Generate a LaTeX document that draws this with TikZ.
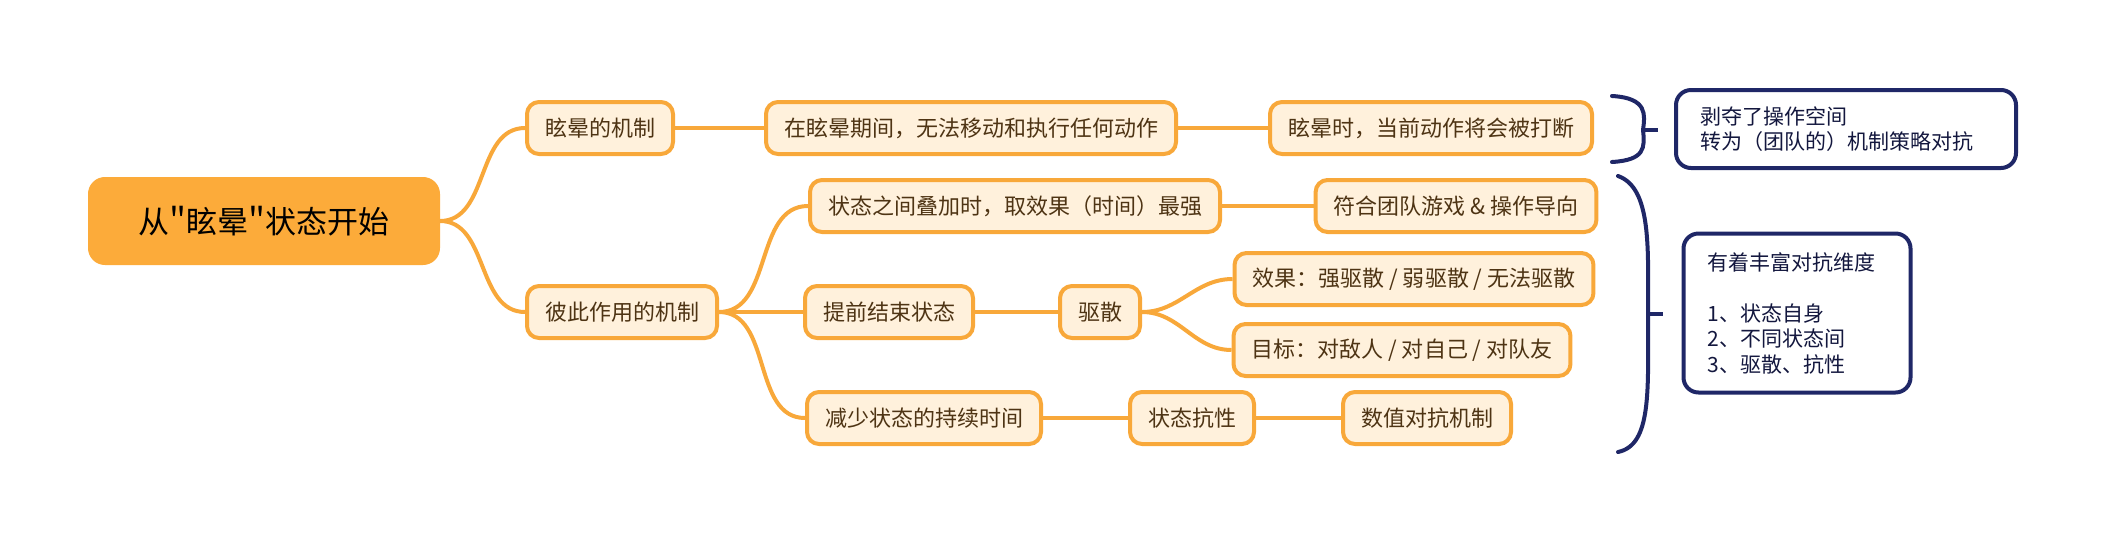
\documentclass[tikz,border=0pt]{standalone}
\usepackage{fontspec}
\setmainfont{Noto Sans CJK SC}
\usepackage{xcolor}
\usepackage{tikz}

\definecolor{orangeline}{HTML}{F8A83A}
\definecolor{rootfill}{HTML}{FCAB3A}
\definecolor{leaffill}{HTML}{FFF1DC}
\definecolor{leaftext}{HTML}{4E3414}
\definecolor{navy}{HTML}{1F2767}

\newcommand{\dquote}{\kern-7pt＂\kern-7pt}

\begin{document}
\begin{tikzpicture}[x=1pt,y=-1pt,line width=4pt,auto]

                \tikzset{topic/.style={draw=orangeline, fill=leaffill, text=leaftext, rounded corners=12pt, minimum height=52pt, inner xsep=18pt, font=\fontsize{22}{26}\selectfont}}
                \tikzset{root/.style={draw=rootfill, fill=rootfill, text=black, rounded corners=15pt, minimum height=84pt, minimum width=348pt, font=\fontsize{31}{36}\selectfont}}
                \tikzset{note/.style={draw=navy, fill=white, text=navy!60!black, rounded corners=15pt, align=left, inner xsep=24pt, font=\fontsize{21}{25.5}\selectfont}}
                \tikzset{link/.style={draw=orangeline, out=0, in=180}}

                \useasboundingbox (0,0) rectangle (2107,542);

                \node[root] (R) at (264,221) {从\dquote 眩晕\dquote 状态开始};
                \node[topic] (A) at (600,128) {眩晕的机制};
                \node[topic] (B) at (622,312) {彼此作用的机制};
                \node[topic] (C) at (971,128) {在眩晕期间，无法移动和执行任何动作};
                \node[topic] (D) at (1431,128) {眩晕时，当前动作将会被打断};
                \node[topic] (E) at (1015,206) {状态之间叠加时，取效果（时间）最强};
                \node[topic] (F) at (1456,206) {符合团队游戏 \& 操作导向};
                \node[topic] (G) at (889,312) {提前结束状态};
                \node[topic] (H) at (1100,312) {驱散};
                \node[topic] (I) at (1414,279) {效果：强驱散 / 弱驱散 / 无法驱散};
                \node[topic] (J) at (1402,350) {目标：对敌人 / 对自己 / 对队友};
                \node[topic] (K) at (924,418) {减少状态的持续时间};
                \node[topic] (L) at (1192,418) {状态抗性};
                \node[topic] (M) at (1427,418) {数值对抗机制};

                \node[note, text width=292pt, minimum height=78pt] (N) at (1846,129) {剥夺了操作空间\\转为（团队的）机制策略对抗};
                \node[note, text width=179pt, minimum height=159pt] (O) at (1797,313) {有着丰富对抗维度\\[25.5pt]1、状态自身\\2、不同状态间\\3、驱散、抗性};

                \path (R) edge[link] (A);
                \path (R) edge[link] (B);
                \path (A) edge[link] (C);
                \path (C) edge[link] (D);
                \path (B) edge[link] (E);
                \path (B) edge[link] (G);
                \path (B) edge[link] (K);
                \path (E) edge[link] (F);
                \path (G) edge[link] (H);
                \path (H) edge[link] (I);
                \path (H) edge[link] (J);
                \path (K) edge[link] (L);
                \path (L) edge[link] (M);

                % braces
                \coordinate (P) at (1643,130);
                \coordinate (Q) at (1648,314);
                \draw[navy, line cap=round] (1612,96) .. controls (1648,98) and (1645,115) .. (P) .. controls (1645,148) and (1645,160) .. (1612,162);
                \draw[navy] (P) -- ++(15,0);
                \draw[navy, line cap=round] (1618,176) .. controls (1652,188) and (1648,250) .. (Q) .. controls (1648,390) and (1652,445) .. (1618,452);
                \draw[navy] (Q) -- ++(15,0);
            \end{tikzpicture}
\end{document}
